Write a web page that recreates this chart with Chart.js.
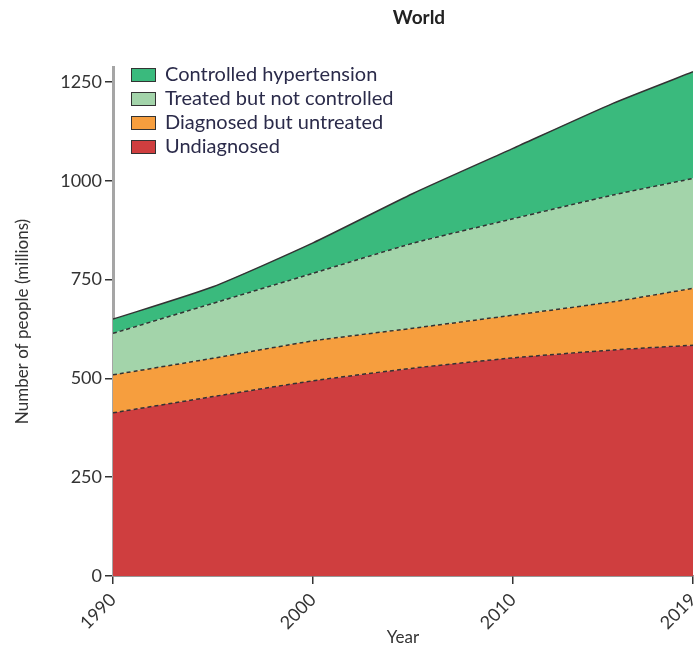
<!DOCTYPE html>
<html>
<head>
<meta charset="utf-8">
<script src="https://cdn.jsdelivr.net/npm/chart.js@4"></script>
<style>
  body { margin: 0; background: #fff; }
  #wrap { position: relative; width: 699px; height: 651px; }
  #titulo { position: absolute; left: 0; width: 838px; top: 5px; text-align: center;
            font: bold 19px Lato, sans-serif; color: #222; }
  #legenda { position: absolute; left: 131px; top: 63px; font: 20px Lato, sans-serif; color: #2b2b4a; }
  #legenda div { height: 24px; line-height: 20px; white-space: nowrap; }
  #legenda span { display: inline-block; width: 23px; height: 12px; border: 1.5px solid #333;
                  vertical-align: -1px; margin-right: 9px; }
</style>
</head>
<body>
<div id="wrap">
  <canvas id="mundo" width="699" height="651"></canvas>
  <div id="titulo">World</div>
  <div id="legenda"></div>
</div>
<script>
var anos = [1990, 1995, 2000, 2005, 2010, 2015, 2019];
var naoDiagnosticado = [413, 454, 494, 526, 552, 572, 584];
var diagnosticadoSemTratamento = [96, 97, 101, 101, 108, 122, 144];
var tratadoNaoControlado = [105, 139, 171, 215, 244, 270, 278];
var controlado = [36, 42, 77, 126, 178, 232, 270];
var ticksAno = [1990, 2000, 2010, 2019];
var ticksY = [0, 250, 500, 750, 1000, 1250];

function pontos(valores) {
    return anos.map(function (a, i) { return { x: a, y: valores[i] }; });
}

var series = [
    { label: 'Undiagnosed', data: pontos(naoDiagnosticado), backgroundColor: 'rgb(207, 62, 63)', fill: 'origin', borderDash: [4, 3] },
    { label: 'Diagnosed but untreated', data: pontos(diagnosticadoSemTratamento), backgroundColor: 'rgb(246, 158, 62)', fill: '-1', borderDash: [4, 3] },
    { label: 'Treated but not controlled', data: pontos(tratadoNaoControlado), backgroundColor: 'rgb(163, 212, 170)', fill: '-1', borderDash: [4, 3] },
    { label: 'Controlled hypertension', data: pontos(controlado), backgroundColor: 'rgb(58, 186, 125)', fill: '-1', borderDash: [] }
];
series.forEach(function (s) {
    s.borderColor = '#333';
    s.borderWidth = 1.5;
    s.pointRadius = 0;
    s.tension = 0.2;
});

// legenda em html, na ordem inversa
var leg = document.getElementById('legenda');
series.slice().reverse().forEach(function (s) {
    var d = document.createElement('div');
    d.innerHTML = '<span style="background:' + s.backgroundColor + '"></span>' + s.label;
    leg.appendChild(d);
});

var fonte = { family: 'Lato, sans-serif', size: 18 };
var ctx = document.getElementById('mundo').getContext('2d');
var grafico = new Chart(ctx, {
    type: 'line',
    data: { datasets: series },
    options: {
        responsive: false,
        animation: false,
        layout: { padding: { top: 67, right: 6, left: 0, bottom: 0 } },
        plugins: {
            legend: { display: false },
            tooltip: { enabled: false }
        },
        scales: {
            x: {
                type: 'linear',
                min: 1990,
                max: 2019,
                afterBuildTicks: function (s) { s.ticks = ticksAno.map(function (v) { return { value: v }; }); },
                afterFit: function (s) { s.height = 75; s.paddingRight = 0; s.paddingLeft = 0; },
                ticks: { maxRotation: 45, minRotation: 45, color: '#333', font: fonte, padding: 5,
                         callback: function (v) { return String(v); } },
                grid: { drawOnChartArea: false, drawTicks: true, tickLength: 8, color: '#333', lineWidth: 1.5 },
                border: { display: true, color: '#333', width: 1.5 },
                title: { display: true, text: 'Year', color: '#333', font: { family: 'Lato, sans-serif', size: 17 },
                         padding: { top: 0, bottom: 3 } }
            },
            y: {
                stacked: true,
                min: 0,
                max: 1288,
                afterBuildTicks: function (s) { s.ticks = ticksY.map(function (v) { return { value: v }; }); },
                afterFit: function (s) { s.width = 113; },
                ticks: { color: '#333', font: fonte, padding: 3, callback: function (v) { return String(v); } },
                grid: { drawOnChartArea: false, drawTicks: true, tickLength: 8, color: '#333', lineWidth: 1.5 },
                border: { display: true, color: '#a5a5a5', width: 3 },
                title: { display: true, text: 'Number of people (millions)', color: '#333',
                         font: { family: 'Lato, sans-serif', size: 17 },
                         padding: { top: 12, bottom: 0 } }
            }
        }
    }
});
</script>
</body>
</html>
